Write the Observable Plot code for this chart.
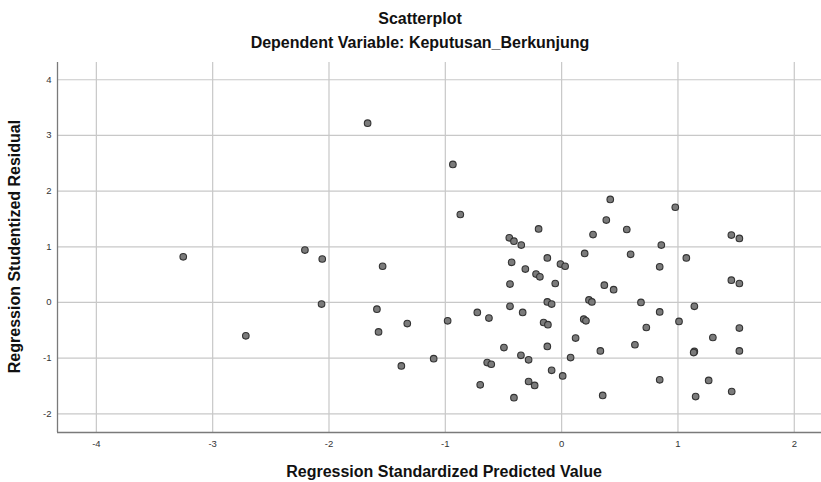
<!DOCTYPE html>
<html>
<head>
<meta charset="utf-8">
<script src="https://cdn.jsdelivr.net/npm/d3@7"></script>
<script src="https://cdn.jsdelivr.net/npm/@observablehq/plot@0.6"></script>
<style>
  html, body { margin: 0; padding: 0; background: #fff; }
  #chart svg { display: block; }
</style>
</head>
<body>
<div id="chart"></div>
<script>
const title = "Scatterplot";
const subtitle = "Dependent Variable: Keputusan_Berkunjung";
const xLabel = "Regression Standardized Predicted Value";
const yLabel = "Regression Studentized Residual";
const xTicks = [-4, -3, -2, -1, 0, 1, 2];
const yTicks = [-2, -1, 0, 1, 2, 3, 4];

const predicted = [
  -3.253, -2.715, -2.207, -2.058, -2.064, -1.668, -1.539, -1.588, -1.574, -1.327,
  -1.378, -1.10, -0.98, -0.935, -0.871,
  -0.725, -0.625, -0.496, -0.64, -0.605, -0.70, -0.41, -0.45, -0.41, -0.347,
  -0.43, -0.312, -0.22, -0.187, -0.444, -0.444, -0.335, -0.198, -0.123, -0.01,
  0.03, -0.055, -0.123, -0.086, -0.155, -0.118, -0.123, -0.35, -0.284, -0.086,
  0.009, -0.284, -0.232, 0.077, 0.12, 0.19, 0.209, 0.235, 0.26, 0.333,
  0.353, 0.198, 0.27, 0.384, 0.418, 0.56, 0.367, 0.447, 0.593,
  0.977, 0.857, 0.843, 1.072, 1.459, 1.528, 1.459, 1.528, 0.682, 0.843,
  1.141, 1.009, 0.728, 1.528, 0.63, 1.30, 1.141, 1.135, 1.528, 0.843,
  1.264, 1.462, 1.152
];
const residual = [
  0.82, -0.60, 0.94, 0.78, -0.03, 3.22, 0.65, -0.12, -0.53, -0.38,
  -1.14, -1.01, -0.33, 2.48, 1.58,
  -0.18, -0.28, -0.81, -1.08, -1.11, -1.48, -1.71, 1.16, 1.10, 1.03,
  0.72, 0.60, 0.51, 0.46, 0.33, -0.07, -0.18, 1.32, 0.80, 0.69,
  0.65, 0.34, 0.01, -0.03, -0.36, -0.40, -0.79, -0.95, -1.03, -1.22,
  -1.32, -1.42, -1.49, -0.99, -0.64, -0.30, -0.33, 0.045, 0.01, -0.87,
  -1.67, 0.88, 1.22, 1.48, 1.85, 1.31, 0.31, 0.23, 0.865,
  1.71, 1.03, 0.64, 0.80, 1.21, 1.15, 0.40, 0.34, 0.00, -0.17,
  -0.07, -0.34, -0.45, -0.46, -0.76, -0.63, -0.88, -0.90, -0.87, -1.39,
  -1.40, -1.60, -1.69
];

const data = predicted.map((x, i) => ({x, y: residual[i]}));
const xDomain = [-4.334, 2.234];
const yDomain = [-2.336, 4.31];

const W = 821, H = 482;
const mTop = 62, mBottom = 50, mLeft = 57, mRight = 0;
const font = "'Liberation Sans', Arial, sans-serif";
const fmt = d => String(d);

const chart = Plot.plot({
  width: W,
  height: H,
  marginTop: mTop,
  marginBottom: mBottom,
  marginLeft: mLeft,
  marginRight: mRight,
  style: {fontFamily: font, background: "#fff"},
  x: {domain: xDomain, label: null},
  y: {domain: yDomain, label: null},
  marks: [
    Plot.gridX(xTicks, {stroke: "#c8c8c8", strokeOpacity: 1, strokeWidth: 1.2}),
    Plot.gridY(yTicks, {stroke: "#c8c8c8", strokeOpacity: 1, strokeWidth: 1.2}),
    Plot.ruleX([xDomain[0]], {stroke: "#7a7a7a", strokeWidth: 1.3}),
    Plot.ruleY([yDomain[0]], {stroke: "#7a7a7a", strokeWidth: 1.3}),
    Plot.axisX(xTicks, {tickSize: 0, tickPadding: 8, fontSize: 9.5, fill: "#333", label: null, tickFormat: fmt}),
    Plot.axisY(yTicks, {tickSize: 0, tickPadding: 6, fontSize: 9.5, fill: "#333", label: null, tickFormat: fmt}),
    Plot.dot(data, {x: "x", y: "y", r: 3.3, fill: "#7b7b7b", stroke: "#333", strokeWidth: 1.1})
  ]
});

const svg = d3.select(chart);
function label(x, y, txt) {
  return svg.append("text").attr("x", x).attr("y", y).attr("text-anchor", "middle")
    .attr("font-family", font).attr("font-size", 16).attr("font-weight", "bold")
    .attr("fill", "#111").text(txt);
}
label(420, 24, title);
label(420, 48, subtitle);
label(444, 477, xLabel);
svg.append("text").attr("transform", `translate(19.5,246.5) rotate(-90)`)
  .attr("text-anchor", "middle")
  .attr("font-family", font).attr("font-size", 16).attr("font-weight", "bold")
  .attr("fill", "#111").text(yLabel);

document.getElementById("chart").appendChild(chart);
</script>
</body>
</html>
